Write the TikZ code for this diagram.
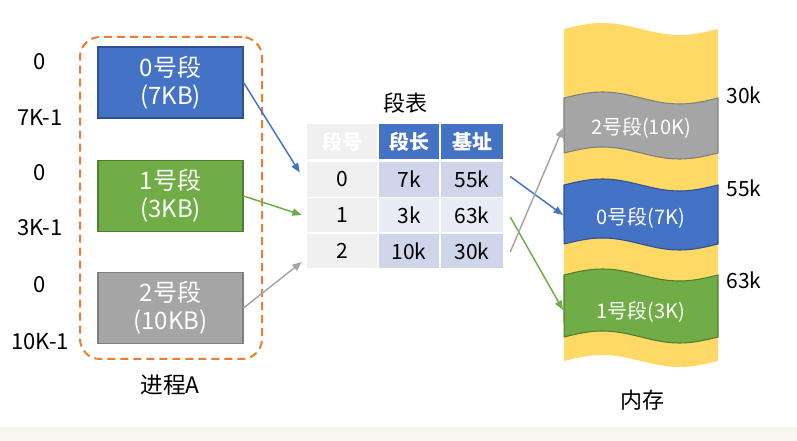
\documentclass[tikz,border=0pt]{standalone}
\usepackage{fontspec}
\setmainfont{Noto Sans CJK SC}
\usetikzlibrary{arrows.meta,calc}
\definecolor{sblue}{HTML}{4472C4}
\definecolor{sblueD}{HTML}{2F528F}
\definecolor{sgreen}{HTML}{70AD47}
\definecolor{sgreenD}{HTML}{507E32}
\definecolor{sgray}{HTML}{A5A5A5}
\definecolor{sgrayD}{HTML}{7F7F7F}
\definecolor{syellow}{HTML}{FFD966}
\definecolor{sorange}{HTML}{ED7D31}
\definecolor{cellA}{HTML}{CFD5EA}
\definecolor{cellB}{HTML}{E9EBF5}
\definecolor{cellG}{HTML}{F0F0F0}
\definecolor{band}{HTML}{F9F5EF}
\begin{document}
\begin{tikzpicture}[x=0.75pt,y=-0.75pt,
  segbox/.style={draw, line width=0.8pt, minimum width=108.75pt, minimum height=53.25pt,
    inner sep=0pt, align=center, text=white, font=\fontsize{18}{21}\selectfont},
  procbox/.style={draw=sorange, line width=1.5pt, dash pattern=on 6pt off 3.75pt,
    rounded corners=15pt, minimum width=136.5pt, minimum height=241.5pt, inner sep=0pt},
  lbl/.style={font=\fontsize{16.5}{20}\selectfont, inner sep=0pt},
  cell/.style={minimum height=26pt, inner sep=0pt, font=\fontsize{15.75}{18}\selectfont},
  c1/.style={cell, minimum width=52.5pt},
  c2/.style={cell, minimum width=45pt},
  c3/.style={cell, minimum width=46.5pt},
  hd/.style={fill=sblue, text=white, font=\bfseries\fontsize{15}{18}\selectfont},
  memtxt/.style={text=white, font=\fontsize{15}{18}\selectfont, inner sep=0pt},
  arr/.style={line width=1.1pt, -{Triangle[length=7pt,width=5.5pt]}},
]
\useasboundingbox (0,0) rectangle (797,441);
\fill[white] (0,0) rectangle (797,441);
\fill[band] (0,427) rectangle (797,441);

% process A
\node[procbox] (proc) at (171,198) {};
\node[segbox, fill=sblue, draw=sblueD] (b0) at (170.5,82.5) {0号段\\(7KB)};
\node[segbox, fill=sgreen, draw=sgreenD] (b1) at (170.5,196) {1号段\\(3KB)};
\node[segbox, fill=sgray, draw=sgrayD] (b2) at (170.5,308) {2号段\\(10KB)};
\node[lbl, font=\fontsize{17}{20}\selectfont] (procl) at (170,385) {进程A};

\node[lbl] (a0) at (40,62) {0};
\node[lbl] (a1) at (40,117) {7K-1};
\node[lbl] (a2) at (40,173) {0};
\node[lbl] (a3) at (40,228) {3K-1};
\node[lbl] (a4) at (40,285) {0};
\node[lbl] (a5) at (40,342) {10K-1};

% segment table
\node[lbl] (tt) at (405,103) {段表};
\node[c1, fill=cellG, text=white, font=\bfseries\fontsize{15}{18}\selectfont] (h1) at (342,141.5) {段号};
\node[c2, hd] (h2) at (409,141.5) {段长};
\node[c3, hd] (h3) at (472,141.5) {基址};
\node[c1, fill=cellG] (r0c1) at (342,179.5) {0};
\node[c2, fill=cellA] (r0c2) at (409,179.5) {7k};
\node[c3, fill=cellA] (r0c3) at (472,179.5) {55k};
\node[c1, fill=cellG] (r1c1) at (342,215) {1};
\node[c2, fill=cellB] (r1c2) at (409,215) {3k};
\node[c3, fill=cellB] (r1c3) at (472,215) {63k};
\node[c1, fill=cellG] (r2c1) at (342,251) {2};
\node[c2, fill=cellA] (r2c2) at (409,251) {10k};
\node[c3, fill=cellA] (r2c3) at (472,251) {30k};

% memory
\path[fill=syellow] plot[domain=0:1,samples=41,smooth] ({564+154*\x},{29-6*sin(360*\x)})
  -- plot[domain=1:0,samples=41,smooth] ({564+154*\x},{361-6*sin(360*\x)}) -- cycle;
\path[fill=sgray, draw=sgrayD, line width=0.8pt] plot[domain=0:1,samples=41,smooth] ({564+154*\x},{98-6*sin(360*\x)})
  -- plot[domain=1:0,samples=41,smooth] ({564+154*\x},{153-6*sin(360*\x)}) -- cycle;
\path[fill=sblue, draw=sblueD, line width=0.8pt] plot[domain=0:1,samples=41,smooth] ({564+154*\x},{185-6*sin(360*\x)})
  -- plot[domain=1:0,samples=41,smooth] ({564+154*\x},{244-6*sin(360*\x)}) -- cycle;
\path[fill=sgreen, draw=sgreenD, line width=0.8pt] plot[domain=0:1,samples=41,smooth] ({564+154*\x},{275-6*sin(360*\x)})
  -- plot[domain=1:0,samples=41,smooth] ({564+154*\x},{337-6*sin(360*\x)}) -- cycle;
\node[memtxt] (m2) at (641,128) {2号段(10K)};
\node[memtxt] (m0) at (641,218) {0号段(7K)};
\node[memtxt] (m1) at (641,312) {1号段(3K)};
\coordinate (e2) at (563,128);
\coordinate (e0) at (563,215);
\coordinate (e1) at (563,310);

\node[lbl, font=\fontsize{15.75}{18}\selectfont] (k30) at (744,95) {30k};
\node[lbl, font=\fontsize{15.75}{18}\selectfont] (k55) at (744,188) {55k};
\node[lbl, font=\fontsize{15.75}{18}\selectfont] (k63) at (744,280) {63k};
\node[lbl] (mem) at (642,400) {内存};

% arrows
\draw[arr, sblue] (b0.east) -- ($(r0c1.west)+(-7,-7)$);
\draw[arr, sgreen] (b1.east) -- ($(r1c1.west)+(-5,0)$);
\draw[arr, sgray] (b2.east) -- ($(r2c1.west)+(-5,11)$);
\draw[arr, sblue] ($(r0c3.east)+(7,-3)$) -- (e0);
\draw[arr, sgreen] ($(r1c3.east)+(7,2)$) -- (e1);
\draw[arr, sgray] ($(r2c3.east)+(7,1)$) -- (e2);
\end{tikzpicture}
\end{document}
